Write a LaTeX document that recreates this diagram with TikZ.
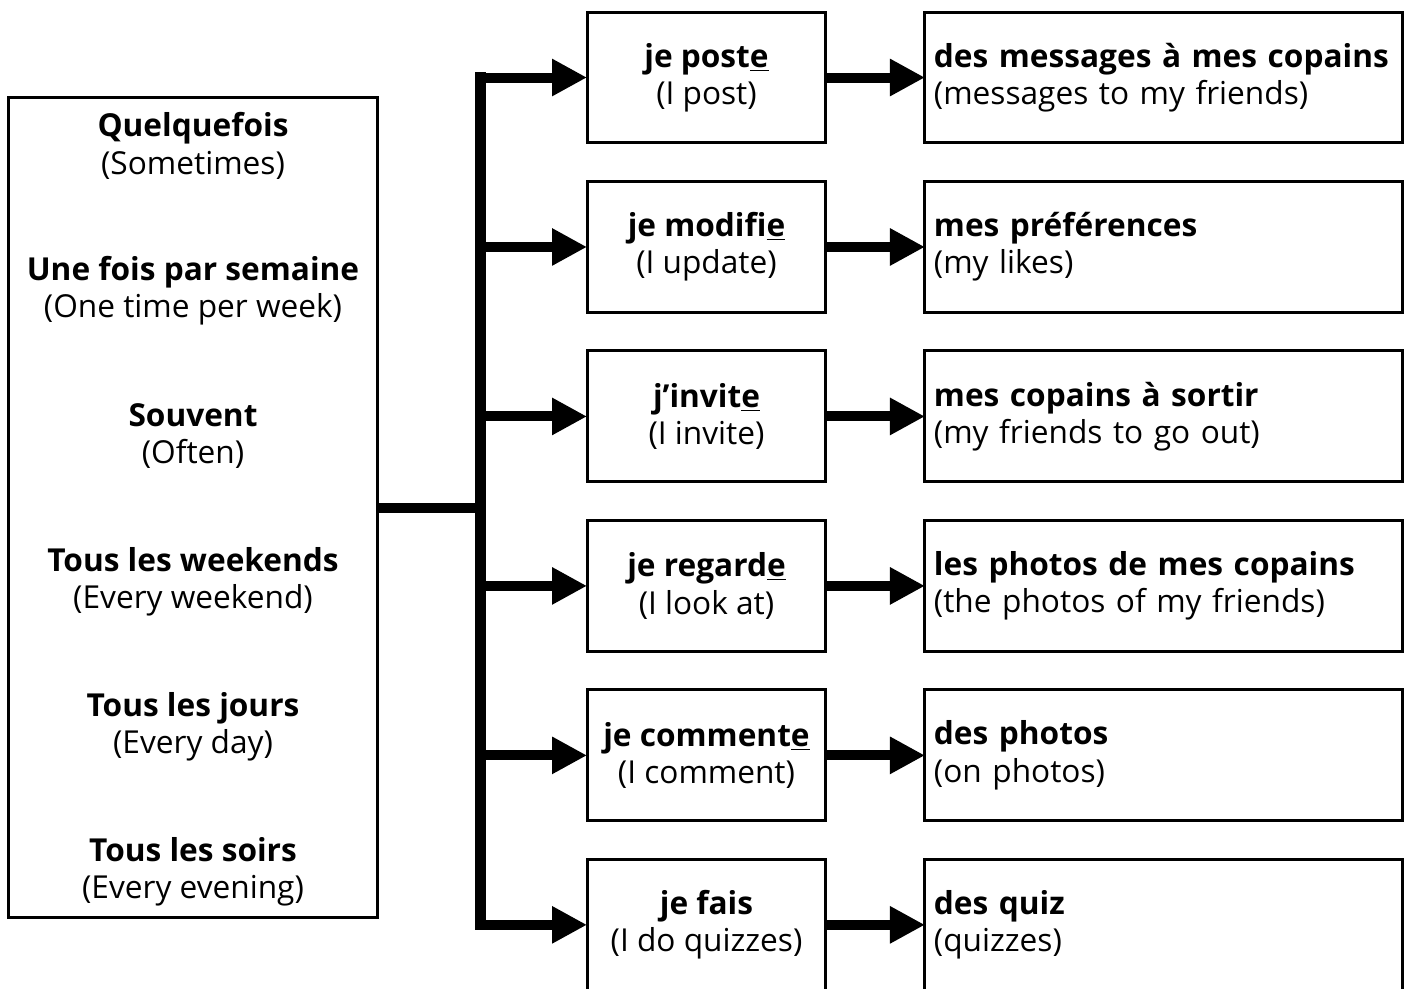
\documentclass[tikz,border=0pt]{standalone}
\usepackage{fontspec}
\setmainfont{Open Sans}
\usetikzlibrary{positioning,arrows.meta}
\tikzset{
  freqbox/.style={
    rectangle,
    draw=black, line width=0.06cm,
    minimum width=7.4cm,
    minimum height=16.42cm,
    outer sep=0pt},
  freqtext/.style={align=center, font=\fontsize{18}{21.2}\selectfont},
  verbbox/.style={
    rectangle,
    draw=black, line width=0.06cm,
    minimum width=4.78cm,
    minimum height=2.62cm,
    align=center,
    font=\fontsize{18}{21.2}\selectfont,
    outer sep=0pt},
  thingbox/.style={
    rectangle,
    draw=black, line width=0.06cm,
    minimum width=9.56cm,
    minimum height=2.62cm,
    text width=9.2cm,
    inner xsep=0.18cm,
    align=left,
    font=\fontsize{18}{21.2}\selectfont,
    outer sep=0pt},
  spine/.style={draw, line width=0.22cm, line cap=rect},
  stem/.style={draw, line width=0.2cm},
  fat/.style={draw, line width=0.2cm, -{Triangle[length=0.7cm,width=0.7cm]}},
}

\begin{document}
\begin{tikzpicture}[x=0.02cm, y=-0.02cm, node distance=0.77cm and 1.98cm]
  \useasboundingbox (0,0) rectangle (1408,988);
  \clip (0,0) rectangle (1408,988);

  % how often
  \node[freqbox] (freq) at (193,507.5) {};
  \node[freqtext] (quelquefois) at (193,146) {\textbf{Quelquefois}\\(Sometimes)};
  \node[freqtext] (semaine) at (193,291) {\textbf{Une fois par semaine}\\(One time per week)};
  \node[freqtext] (souvent) at (193,436) {\textbf{Souvent}\\(Often)};
  \node[freqtext] (weekends) at (193,582) {\textbf{Tous les weekends}\\(Every weekend)};
  \node[freqtext] (jours) at (193,727) {\textbf{Tous les jours}\\(Every day)};
  \node[freqtext] (soirs) at (193,872) {\textbf{Tous les soirs}\\(Every evening)};

  % verbs
  \node[verbbox] (poste) at (706.5,77.5) {\textbf{je post\underline{e}}\\(I post)};
  \node[verbbox, below=of poste] (modifie) {\textbf{je modifi\underline{e}}\\(I update)};
  \node[verbbox, below=of modifie] (invite) {\textbf{j’invit\underline{e}}\\(I invite)};
  \node[verbbox, below=of invite] (regarde) {\textbf{je regard\underline{e}}\\(I look at)};
  \node[verbbox, below=of regarde] (commente) {\textbf{je comment\underline{e}}\\(I comment)};
  \node[verbbox, below=of commente] (fais) {\textbf{je fais}\\(I do quizzes)};

  % what
  \node[thingbox, right=of poste] (messages) {\textbf{des messages à mes copains}\\(messages to my friends)};
  \node[thingbox, right=of modifie] (preferences) {\textbf{mes préférences}\\(my likes)};
  \node[thingbox, right=of invite] (sortir) {\textbf{mes copains à sortir}\\(my friends to go out)};
  \node[thingbox, right=of regarde] (photos) {\textbf{les photos de mes copains}\\(the photos of my friends)};
  \node[thingbox, right=of commente] (desphotos) {\textbf{des photos}\\(on photos)};
  \node[thingbox, right=of fais] (quiz) {\textbf{des quiz}\\(quizzes)};

  % connectors
  \coordinate (fork) at (480,507.5);
  \draw[stem] (freq.east) -- (fork);
  \draw[spine] (fork |- poste.west) -- (fork |- fais.west);
  \foreach \v/\t in {poste/messages, modifie/preferences, invite/sortir,
                     regarde/photos, commente/desphotos, fais/quiz} {
    \draw[fat] (fork |- \v.west) -- (\v.west);
    \draw[fat] (\v.east) -- (\t.west);
  }
\end{tikzpicture}
\end{document}
